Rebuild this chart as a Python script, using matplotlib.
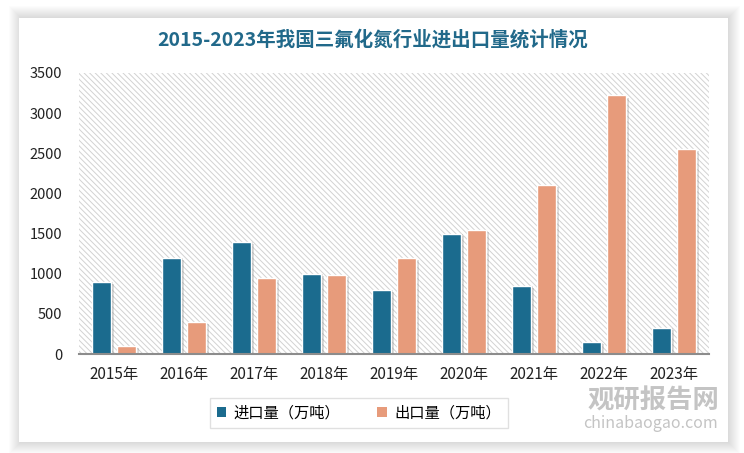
import matplotlib
matplotlib.use("Agg")
import matplotlib.pyplot as plt
import matplotlib.patheffects as pe
from matplotlib.patches import Rectangle
import numpy as np

plt.rcParams['font.family'] = ['Noto Sans CJK SC', 'DejaVu Sans']
plt.rcParams['hatch.linewidth'] = 0.7
plt.rcParams['hatch.color'] = '#d2d2d2'

# 数据
years = ['2015年', '2016年', '2017年', '2018年', '2019年', '2020年', '2021年', '2022年', '2023年']
imports = [900, 1200, 1400, 1000, 800, 1500, 850, 150, 330]
exports = [100, 400, 950, 990, 1200, 1550, 2100, 3220, 2550]

title = '2015-2023年我国三氟化氮行业进出口量统计情况'
import_label = '进口量（万吨）'
export_label = '出口量（万吨）'
c_import = '#1b6b8e'
c_export = '#e79b7b'

W, H = 744, 453
fig = plt.figure(figsize=(W / 100, H / 100), dpi=100)
fig.patch.set_facecolor('white')

# 白色面板 + 柔和阴影
px0, py0, px1, py1 = 19, 18, 728, 442
for k in range(12, 0, -1):
    fig.patches.append(Rectangle(((px0 - k + 2) / W, 1 - (py1 + k) / H),
                                 (px1 - px0 + 2 * k - 2) / W, (py1 - py0 + 2 * k) / H,
                                 transform=fig.transFigure, facecolor='#000000',
                                 alpha=0.012, edgecolor='none', zorder=0))
fig.patches.append(Rectangle((px0 / W, 1 - py1 / H), (px1 - px0) / W, (py1 - py0) / H,
                             transform=fig.transFigure, facecolor='white',
                             edgecolor='none', zorder=1))

ax = fig.add_axes([79 / W, 1 - 354 / H, (709 - 79) / W, (354 - 73) / H])
ax.set_zorder(2)
ax.patch.set_alpha(0)

# 斜线底纹
ax.add_patch(Rectangle((0, 0), 1, 1, transform=ax.transAxes, facecolor='white',
                       edgecolor='#d2d2d2', hatch='\\' * 6, linewidth=0, zorder=0))

x = np.arange(len(years))
off = 0.177
w = 0.275
shadow = [pe.SimplePatchShadow(offset=(2, -1.5), shadow_rgbFace='#777777', alpha=0.25),
          pe.SimplePatchShadow(offset=(1, -0.5), shadow_rgbFace='#777777', alpha=0.2),
          pe.Normal()]
b1 = ax.bar(x - off, imports, w, color=c_import, edgecolor='white', linewidth=1,
            zorder=3, label=import_label)
b2 = ax.bar(x + off, exports, w, color=c_export, edgecolor='white', linewidth=1,
            zorder=3, label=export_label)
for b in list(b1) + list(b2):
    b.set_path_effects(shadow)

ax.set_xlim(-0.5, len(years) - 0.5)
ax.set_ylim(0, 3500)
ax.set_yticks(range(0, 3501, 500))
ax.set_xticks(x)
ax.set_xticklabels(years, fontsize=11)
ax.tick_params(axis='x', length=0, pad=9, colors='#222222')
ax.tick_params(axis='y', length=0, pad=12, labelsize=10.5, colors='#222222')
for s in ['top', 'right', 'left']:
    ax.spines[s].set_visible(False)
ax.spines['bottom'].set_color('#8c8c8c')
ax.spines['bottom'].set_linewidth(1.5)
ax.spines['bottom'].set_zorder(4)

fig.text(373 / W, 1 - 40 / H, title, ha='center', va='center', fontsize=14,
         fontweight='bold', color='#21698a', zorder=5)

leg = fig.legend(handles=[b1, b2], loc='center', bbox_to_anchor=(359 / W, 1 - 413 / H),
                 ncol=2, frameon=True, fontsize=11, handlelength=0.6, handleheight=0.6,
                 columnspacing=2.4, handletextpad=0.5, fancybox=False,
                 borderpad=0.45, borderaxespad=0)
leg.get_frame().set_edgecolor('#d9d9d9')
leg.get_frame().set_linewidth(1)
leg.set_zorder(5)
for h in leg.legend_handles:
    h.set_path_effects([])
    h.set_edgecolor('none')

# 水印
fig.text(653 / W, 1 - 401 / H, '观研报告网', ha='center', va='center', fontsize=19,
         fontweight='bold', color='#c4c4c4', zorder=6)
fig.text(650 / W, 1 - 423 / H, 'chinabaogao.com', ha='center', va='center',
         fontsize=11.5, color='#c4c4c4', zorder=6)

fig.savefig('out.png', dpi=100)
